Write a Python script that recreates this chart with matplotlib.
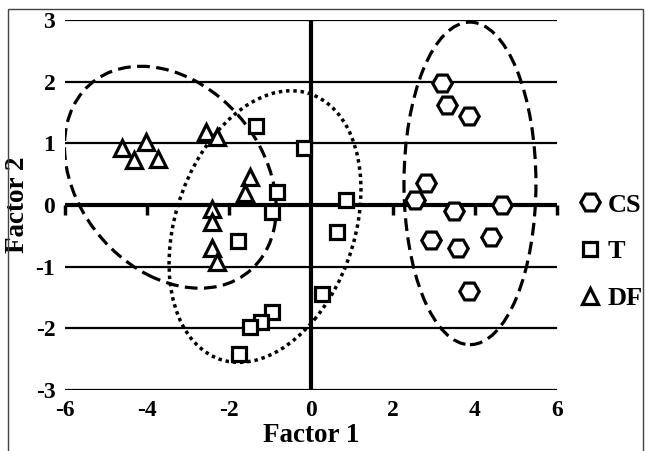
import matplotlib.pyplot as plt
from matplotlib.patches import Ellipse, Rectangle

# CS group (hexagons)
cs_x = [3.2, 3.32, 3.85, 2.8, 2.54, 3.49, 4.66, 2.93, 3.59, 4.39, 3.85]
cs_y = [1.97, 1.62, 1.45, 0.36, 0.08, -0.1, 0.0, -0.57, -0.69, -0.52, -1.4]

# T group (squares)
t_x = [-1.34, -0.17, -0.83, -0.95, -1.78, 0.85, 0.63, 0.27, -0.95, -1.22, -1.49, -1.76]
t_y = [1.28, 0.92, 0.21, -0.12, -0.58, 0.08, -0.44, -1.45, -1.73, -1.89, -1.98, -2.42]

# DF group (triangles)
df_x = [-4.6, -4.02, -4.32, -3.73, -2.56, -2.29, -1.49, -1.61, -2.41, -2.41, -2.41, -2.29]
df_y = [0.92, 1.02, 0.73, 0.75, 1.18, 1.1, 0.45, 0.2, -0.07, -0.27, -0.7, -0.92]

# group ellipses: center, width, height, angle (data units)
cs_ell = ((3.88, 0.35), 3.22, 5.23, 0)
t_ell = ((-1.12, -0.35), 5.14, 3.86, 38.7)
df_ell = ((-3.43, 0.45), 5.33, 3.35, -18.5)

xticks = [-6, -4, -2, 0, 2, 4, 6]
yticks = [-3, -2, -1, 0, 1, 2, 3]
axis_ticks = [-6, -4, -2, 2, 4, 6]

plt.rcParams['font.family'] = ['Liberation Serif', 'DejaVu Serif']
plt.rcParams['font.weight'] = 'bold'
plt.rcParams['axes.unicode_minus'] = False

fig = plt.figure(figsize=(6.46, 4.51), dpi=100)
ax = fig.add_axes([0.1006, 0.1353, 0.7614, 0.8204])

ax.set_xlim(-6, 6)
ax.set_ylim(-3, 3)
for s in ax.spines.values():
    s.set_visible(False)
ax.set_xticks(xticks)
ax.set_yticks(yticks)
ax.tick_params(length=0, labelsize=17, pad=7)
ax.yaxis.grid(True, color='black', lw=1.6)
ax.set_axisbelow(True)

ax.axhline(0, color='black', lw=3, zorder=1)
ax.axvline(0, color='black', lw=3, zorder=1)
ax.plot(axis_ticks, [0] * len(axis_ticks), ls='none', marker=3, ms=7, mew=2.5,
        color='black', clip_on=False, zorder=1)

ax.add_patch(Ellipse(*cs_ell[:3], angle=cs_ell[3], fill=False, ec='black', lw=2.3,
                     ls=(0, (4, 2)), zorder=2))
ax.add_patch(Ellipse(*df_ell[:3], angle=df_ell[3], fill=False, ec='black', lw=2.3,
                     ls=(0, (4, 2)), zorder=2))
ax.add_patch(Ellipse(*t_ell[:3], angle=t_ell[3], fill=False, ec='black', lw=2.5,
                     ls=(0, (1, 1.1)), zorder=2))

ax.plot(cs_x, cs_y, 'H', ms=14, mfc='white', mec='black', mew=2.3, label='CS', zorder=3)
ax.plot(t_x, t_y, 's', ms=10, mfc='white', mec='black', mew=2.3, label='T', zorder=3)
ax.plot(df_x, df_y, '^', ms=11, mfc='white', mec='black', mew=2.3, label='DF', zorder=3)

ax.set_xlabel('Factor 1', fontsize=19.5, fontweight='bold', labelpad=2)
ax.set_ylabel('Factor 2', fontsize=19.5, fontweight='bold', labelpad=4)

ax.legend(loc='upper left', bbox_to_anchor=(1.045, 0.532), frameon=False, fontsize=19,
          handlelength=0.8, handletextpad=0.3, labelspacing=0.88, borderpad=0,
          borderaxespad=0)

fig.patches.append(Rectangle((8 / 646, -0.05), 635 / 646, 1.05 - 9 / 451,
                             transform=fig.transFigure, fill=False, ec='#444444', lw=1))

plt.savefig('out.png', dpi=100)
